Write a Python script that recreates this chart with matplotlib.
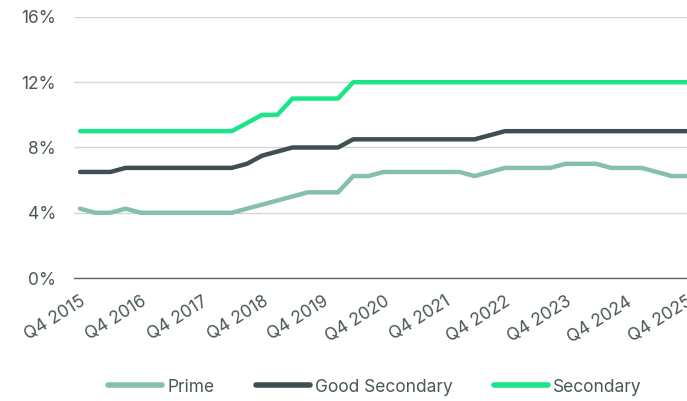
import matplotlib
matplotlib.use("Agg")
import matplotlib.pyplot as plt

# quarterly yields, Q4 2015 .. Q4 2025
quarters = ["Q4 2015", "Q1 2016", "Q2 2016", "Q3 2016", "Q4 2016", "Q1 2017", "Q2 2017", "Q3 2017",
            "Q4 2017", "Q1 2018", "Q2 2018", "Q3 2018", "Q4 2018", "Q1 2019", "Q2 2019", "Q3 2019",
            "Q4 2019", "Q1 2020", "Q2 2020", "Q3 2020", "Q4 2020", "Q1 2021", "Q2 2021", "Q3 2021",
            "Q4 2021", "Q1 2022", "Q2 2022", "Q3 2022", "Q4 2022", "Q1 2023", "Q2 2023", "Q3 2023",
            "Q4 2023", "Q1 2024", "Q2 2024", "Q3 2024", "Q4 2024", "Q1 2025", "Q2 2025", "Q3 2025",
            "Q4 2025"]

prime = [4.25, 4.0, 4.0, 4.25, 4.0, 4.0, 4.0, 4.0, 4.0, 4.0, 4.0,
         4.25, 4.5, 4.75, 5.0, 5.25, 5.25, 5.25, 6.25, 6.25, 6.5,
         6.5, 6.5, 6.5, 6.5, 6.5, 6.25, 6.5, 6.75, 6.75, 6.75,
         6.75, 7.0, 7.0, 7.0, 6.75, 6.75, 6.75, 6.5, 6.25, 6.25]

good_secondary = [6.5, 6.5, 6.5, 6.75, 6.75, 6.75, 6.75, 6.75, 6.75, 6.75, 6.75,
                  7.0, 7.5, 7.75, 8.0, 8.0, 8.0, 8.0, 8.5, 8.5, 8.5,
                  8.5, 8.5, 8.5, 8.5, 8.5, 8.5, 8.75, 9.0, 9.0, 9.0,
                  9.0, 9.0, 9.0, 9.0, 9.0, 9.0, 9.0, 9.0, 9.0, 9.0]

secondary = [9.0, 9.0, 9.0, 9.0, 9.0, 9.0, 9.0, 9.0, 9.0, 9.0, 9.0,
             9.5, 10.0, 10.0, 11.0, 11.0, 11.0, 11.0, 12.0, 12.0, 12.0,
             12.0, 12.0, 12.0, 12.0, 12.0, 12.0, 12.0, 12.0, 12.0, 12.0,
             12.0, 12.0, 12.0, 12.0, 12.0, 12.0, 12.0, 12.0, 12.0, 12.0]

y_ticks = [0, 4, 8, 12, 16]

text_col = "#4a5759"
plt.rcParams["font.family"] = ["Inter", "DejaVu Sans"]

fig = plt.figure(figsize=(6.87, 4.01), dpi=100)
ax = fig.add_axes([0.1077, 0.3067, 0.8923, 0.651])

x = list(range(len(quarters)))
ax.plot(x, prime, color="#86bfad", lw=3.2, solid_capstyle="round", label="Prime")
ax.plot(x, good_secondary, color="#3e4e51", lw=3.2, solid_capstyle="round", label="Good Secondary")
ax.plot(x, secondary, color="#1be58b", lw=3.2, solid_capstyle="round", label="Secondary")

ax.set_xlim(-0.4, 40)
ax.set_ylim(0, 16)
ax.set_yticks(y_ticks)
ax.set_yticklabels([f"{v}%" for v in y_ticks])
ax.set_xticks(x[::4])
ax.set_xticklabels(quarters[::4], rotation=32, ha="right", rotation_mode="anchor")

ax.grid(axis="y", color="#d3d6d6", lw=1)
ax.set_axisbelow(True)
for s in ["top", "right", "left"]:
    ax.spines[s].set_visible(False)
ax.spines["bottom"].set_color("#5b6668")
ax.spines["bottom"].set_linewidth(1)
ax.tick_params(axis="both", length=0, labelsize=12.5, labelcolor=text_col)
ax.tick_params(axis="y", pad=13)
ax.tick_params(axis="x", pad=11)

leg = fig.legend(loc="center", bbox_to_anchor=(375 / 687, 1 - 387 / 401), ncol=3, frameon=False,
                 fontsize=12.5, handlelength=3.1, handletextpad=0.3, columnspacing=2.4)
for t in leg.get_texts():
    t.set_color(text_col)
for l in leg.get_lines():
    l.set_linewidth(4)
    l.set_solid_capstyle("round")

fig.savefig("out.png", dpi=100)
